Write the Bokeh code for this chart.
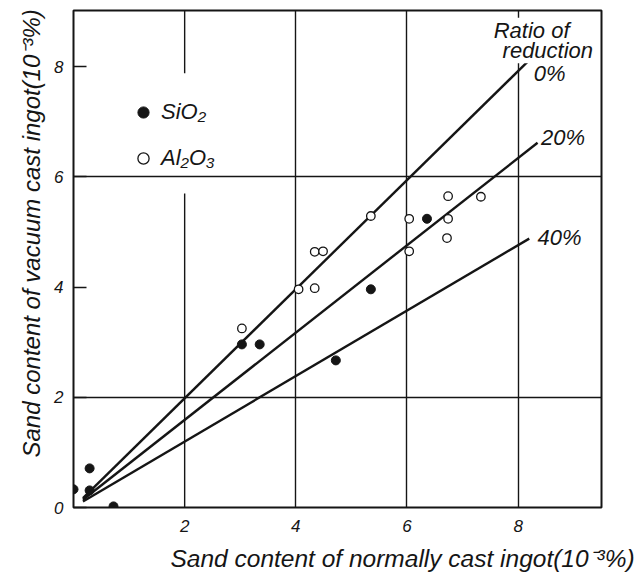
import math
from bokeh.plotting import figure
from bokeh.models import ColumnDataSource, Range1d, FixedTicker, Label, Legend, LegendItem, Title
from bokeh.embed import file_html
from bokeh.resources import INLINE

# ---- data ----
sio2_x = [0.0, 0.29, 0.29, 0.72, 3.03, 3.35, 4.72, 5.35, 6.36]
sio2_y = [0.33, 0.71, 0.31, 0.02, 2.96, 2.96, 2.67, 3.96, 5.24]
al2o3_x = [3.03, 4.05, 4.34, 4.34, 4.49, 5.35, 6.04, 6.04, 6.74, 6.74, 6.72, 7.33]
al2o3_y = [3.25, 3.96, 3.98, 4.64, 4.65, 5.29, 5.24, 4.65, 5.65, 5.24, 4.89, 5.64]
ratio_labels = ["0%", "20%", "40%"]
line_x0 = [0.17, 0.17, 0.17]
line_y0 = [0.17, 0.14, 0.11]
line_x1 = [8.2, 8.35, 8.2]
line_y1 = [8.12, 6.62, 4.88]
x_ticks = [2, 4, 6, 8]
y_ticks = [0, 2, 4, 6, 8]
x_grid = [4, 6, 8]
y_grid = [2, 6]

FONT = "Liberation Sans"
INK = "#151515"

p = figure(width=636, height=580, output_backend="svg", toolbar_location=None,
           x_range=Range1d(0, 9.5), y_range=Range1d(0, 9.02),
           min_border_left=73, min_border_right=35, min_border_top=10, min_border_bottom=73)
p.background_fill_color = "white"
p.border_fill_color = "white"
p.outline_line_color = INK
p.outline_line_width = 2

# grid
p.xgrid.ticker = FixedTicker(ticks=x_grid)
p.ygrid.ticker = FixedTicker(ticks=y_grid)
for g in (p.xgrid, p.ygrid):
    g.grid_line_color = INK
    g.grid_line_width = 1.4
    g.grid_line_alpha = 1.0
# the x = 2 rule is broken where the key sits
p.segment(x0=[2, 2], y0=[0, 7.88], x1=[2, 2], y1=[5.70, 9.02], line_color=INK, line_width=1.4)

# axes
p.xaxis.ticker = FixedTicker(ticks=x_ticks)
p.yaxis.ticker = FixedTicker(ticks=y_ticks)
for ax in (p.xaxis, p.yaxis):
    ax.axis_line_color = None
    ax.minor_tick_line_color = None
    ax.major_label_text_font = FONT
    ax.major_label_text_font_style = "italic"
    ax.major_label_text_font_size = "17px"
    ax.major_label_text_color = INK
p.xaxis.major_tick_line_color = None
p.xaxis.major_label_standoff = 6
p.yaxis.major_tick_in = 13
p.yaxis.major_tick_out = 0
p.yaxis.major_tick_line_width = 1.5
p.yaxis.major_tick_line_color = INK
p.yaxis.major_label_standoff = 10

# reduction-ratio lines
lines = ColumnDataSource(dict(x0=line_x0, y0=line_y0, x1=line_x1, y1=line_y1, lab=ratio_labels))
p.segment(x0="x0", y0="y0", x1="x1", y1="y1", source=lines, line_color=INK, line_width=2.4)

# points
r_si = p.scatter(sio2_x, sio2_y, marker="circle", size=9, fill_color=INK, line_color=INK)
r_al = p.scatter(al2o3_x, al2o3_y, marker="circle", size=8.5, fill_color="white",
                 line_color=INK, line_width=1.3)

legend = Legend(items=[LegendItem(label="SiO₂", renderers=[r_si]),
                       LegendItem(label="Al₂O₃", renderers=[r_al])],
                location=(56, 335), glyph_width=28, glyph_height=28, spacing=18,
                padding=0, label_standoff=4, border_line_color=None,
                background_fill_alpha=0.0,
                label_text_font=FONT, label_text_font_style="italic",
                label_text_font_size="22px", label_text_color=INK, margin=0)
p.add_layout(legend, "center")

def lab(text, x, y, size="22px", bg=None):
    kw = dict(x=x, y=y, text=text, text_font=FONT, text_font_style="italic",
              text_font_size=size, text_color=INK, text_align="left",
              text_baseline="middle")
    if bg:
        kw.update(background_fill_color=bg, background_fill_alpha=1.0)
    p.add_layout(Label(**kw))

lab("Ratio of", 7.56, 8.66, bg="white")
lab("reduction", 7.72, 8.29, bg="white")
lab(ratio_labels[0], 8.28, 7.88)
lab(ratio_labels[1], 8.41, 6.71)
lab(ratio_labels[2], 8.35, 4.90)

# axis titles
xt = Title(text="Sand content of normally cast ingot(10⁻³%)", align="left", offset=97,
           text_font=FONT, text_font_style="italic", text_font_size="24.5px",
           text_color=INK, standoff=17)
p.add_layout(xt, "below")
yt = Title(text="Sand content of vacuum cast ingot(10⁻³%)", align="left", offset=50,
           text_font=FONT, text_font_style="italic", text_font_size="24px",
           text_color=INK, standoff=14)
p.add_layout(yt, "left")

open("out.html", "w").write(file_html(p, INLINE))
